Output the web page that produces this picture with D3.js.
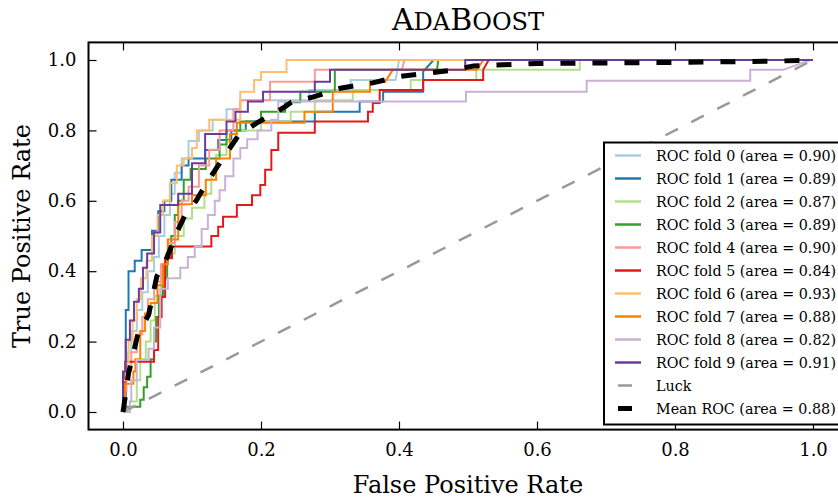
<!DOCTYPE html>
<meta charset="utf-8">
<style>
    body { margin: 0; background: #fff; }
    svg { font-family: "DejaVu Serif", serif; }
    .fold { fill: none; stroke-width: 2px; }
    .tick text { font-family: "DejaVu Serif", serif; font-size: 18px; fill: #000; }
    .tick line { stroke: #000; stroke-width: 1.2px; }
    .domain { display: none; }
    .legend text { font-size: 14.3px; }
</style>
<svg width="838" height="500"></svg>
<script src="https://d3js.org/d3.v7.min.js"></script>
<script>

    // ROC points [fpr, tpr] per fold
    var fold0 = [[0,0],[0,0.06],[0.003,0.06],[0.003,0.12],[0.006,0.12],[0.006,0.17],[0.012,0.17],[0.012,0.23],[0.02,0.23],[0.02,0.29],[0.028,0.29],[0.028,0.34],[0.036,0.34],[0.036,0.4],[0.045,0.4],[0.045,0.44],[0.052,0.44],[0.052,0.5],[0.06,0.5],[0.06,0.56],[0.068,0.56],[0.068,0.62],[0.075,0.62],[0.075,0.68],[0.085,0.68],[0.085,0.72],[0.095,0.72],[0.095,0.77],[0.11,0.77],[0.11,0.8],[0.13,0.8],[0.13,0.83],[0.15,0.83],[0.15,0.86],[0.17,0.86],[0.17,0.886],[0.27,0.886],[0.27,0.915],[0.33,0.915],[0.33,0.943],[0.395,0.943],[0.4,1],[1,1]];
    var fold1 = [[0,0],[0,0.03],[0.004,0.03],[0.004,0.29],[0.008,0.29],[0.008,0.4],[0.017,0.4],[0.017,0.43],[0.027,0.43],[0.027,0.46],[0.042,0.46],[0.042,0.515],[0.051,0.515],[0.051,0.57],[0.06,0.57],[0.06,0.6],[0.07,0.6],[0.07,0.66],[0.085,0.66],[0.085,0.7],[0.095,0.7],[0.095,0.72],[0.119,0.72],[0.119,0.744],[0.138,0.744],[0.138,0.773],[0.157,0.773],[0.157,0.8],[0.178,0.8],[0.178,0.825],[0.278,0.825],[0.278,0.853],[0.343,0.853],[0.343,0.882],[0.377,0.882],[0.377,0.91],[0.435,0.91],[0.435,0.967],[0.45,1],[1,1]];
    var fold2 = [[0,0],[0.01,0],[0.01,0.03],[0.02,0.03],[0.02,0.09],[0.025,0.09],[0.025,0.15],[0.033,0.15],[0.033,0.2],[0.04,0.2],[0.04,0.26],[0.046,0.26],[0.046,0.33],[0.055,0.33],[0.055,0.4],[0.062,0.4],[0.062,0.45],[0.075,0.45],[0.075,0.5],[0.088,0.5],[0.088,0.55],[0.1,0.55],[0.1,0.58],[0.118,0.58],[0.118,0.62],[0.128,0.62],[0.128,0.68],[0.135,0.68],[0.135,0.73],[0.15,0.73],[0.15,0.77],[0.165,0.77],[0.165,0.8],[0.2,0.8],[0.2,0.825],[0.243,0.825],[0.243,0.853],[0.278,0.853],[0.278,0.886],[0.333,0.886],[0.333,0.915],[0.417,0.915],[0.417,0.943],[0.512,0.943],[0.512,0.972],[0.662,0.972],[0.662,1],[1,1]];
    var fold3 = [[0,0],[0.004,0],[0.004,0.015],[0.025,0.015],[0.025,0.035],[0.03,0.035],[0.03,0.07],[0.035,0.07],[0.035,0.1],[0.04,0.1],[0.04,0.15],[0.045,0.15],[0.045,0.2],[0.048,0.2],[0.048,0.27],[0.052,0.27],[0.052,0.33],[0.058,0.33],[0.058,0.38],[0.064,0.38],[0.064,0.44],[0.07,0.44],[0.07,0.5],[0.075,0.5],[0.075,0.56],[0.08,0.56],[0.08,0.6],[0.088,0.6],[0.088,0.66],[0.098,0.66],[0.098,0.69],[0.12,0.69],[0.12,0.72],[0.14,0.72],[0.14,0.76],[0.15,0.76],[0.15,0.8],[0.17,0.8],[0.17,0.825],[0.2,0.825],[0.2,0.853],[0.235,0.853],[0.235,0.88],[0.257,0.88],[0.257,0.91],[0.307,0.91],[0.307,0.972],[0.455,0.972],[0.457,1],[1,1]];
    var fold4 = [[0,0],[0,0.06],[0.005,0.06],[0.005,0.12],[0.012,0.12],[0.012,0.17],[0.02,0.17],[0.02,0.22],[0.028,0.22],[0.028,0.27],[0.036,0.27],[0.036,0.32],[0.045,0.32],[0.045,0.37],[0.055,0.37],[0.055,0.42],[0.065,0.42],[0.065,0.48],[0.075,0.48],[0.075,0.54],[0.085,0.54],[0.085,0.6],[0.095,0.6],[0.095,0.64],[0.11,0.64],[0.11,0.7],[0.125,0.7],[0.125,0.745],[0.14,0.745],[0.14,0.8],[0.16,0.8],[0.16,0.86],[0.17,0.86],[0.17,0.886],[0.213,0.886],[0.213,0.938],[0.278,0.938],[0.278,0.972],[0.404,0.972],[0.408,1],[1,1]];
    var fold5 = [[0,0],[0.003,0],[0.003,0.143],[0.045,0.143],[0.045,0.176],[0.051,0.176],[0.051,0.27],[0.056,0.27],[0.056,0.327],[0.061,0.327],[0.061,0.437],[0.071,0.437],[0.071,0.47],[0.128,0.47],[0.128,0.5],[0.138,0.5],[0.138,0.526],[0.145,0.526],[0.145,0.555],[0.165,0.555],[0.165,0.588],[0.187,0.588],[0.187,0.616],[0.199,0.616],[0.199,0.645],[0.206,0.645],[0.206,0.688],[0.215,0.688],[0.215,0.744],[0.225,0.744],[0.225,0.793],[0.278,0.793],[0.278,0.825],[0.355,0.825],[0.355,0.853],[0.362,0.853],[0.362,0.878],[0.372,0.878],[0.372,0.915],[0.435,0.915],[0.435,0.943],[0.522,0.943],[0.522,0.972],[0.53,1],[1,1]];
    var fold6 = [[0,0],[0,0.09],[0.004,0.09],[0.004,0.14],[0.008,0.14],[0.008,0.2],[0.014,0.2],[0.014,0.26],[0.02,0.26],[0.02,0.32],[0.026,0.32],[0.026,0.38],[0.034,0.38],[0.034,0.43],[0.042,0.43],[0.042,0.5],[0.05,0.5],[0.05,0.56],[0.058,0.56],[0.058,0.6],[0.068,0.6],[0.068,0.65],[0.078,0.65],[0.078,0.7],[0.088,0.7],[0.088,0.72],[0.1,0.72],[0.1,0.75],[0.107,0.75],[0.107,0.8],[0.125,0.8],[0.125,0.83],[0.17,0.83],[0.17,0.91],[0.19,0.91],[0.19,0.943],[0.2,0.943],[0.2,0.966],[0.237,0.966],[0.237,1],[1,1]];
    var fold7 = [[0,0],[0.003,0],[0.003,0.08],[0.015,0.08],[0.015,0.115],[0.018,0.115],[0.018,0.15],[0.025,0.15],[0.025,0.23],[0.032,0.23],[0.032,0.28],[0.04,0.28],[0.04,0.31],[0.05,0.31],[0.05,0.36],[0.058,0.36],[0.058,0.42],[0.065,0.42],[0.065,0.49],[0.08,0.49],[0.08,0.59],[0.1,0.59],[0.1,0.616],[0.12,0.616],[0.12,0.66],[0.135,0.66],[0.135,0.72],[0.155,0.72],[0.155,0.79],[0.165,0.79],[0.165,0.822],[0.263,0.822],[0.263,0.853],[0.304,0.853],[0.304,0.91],[0.358,0.91],[0.358,0.938],[0.38,0.938],[0.391,0.972],[0.513,0.972],[0.522,1],[1,1]];
    var fold8 = [[0,0],[0.01,0],[0.01,0.03],[0.012,0.03],[0.012,0.09],[0.02,0.09],[0.02,0.148],[0.037,0.148],[0.037,0.18],[0.045,0.18],[0.045,0.24],[0.054,0.24],[0.054,0.35],[0.065,0.35],[0.065,0.38],[0.083,0.38],[0.083,0.41],[0.094,0.41],[0.094,0.44],[0.104,0.44],[0.104,0.47],[0.114,0.47],[0.114,0.52],[0.123,0.52],[0.123,0.56],[0.133,0.56],[0.133,0.6],[0.14,0.6],[0.14,0.63],[0.148,0.63],[0.148,0.67],[0.16,0.67],[0.16,0.72],[0.17,0.72],[0.17,0.75],[0.18,0.75],[0.18,0.775],[0.195,0.775],[0.195,0.8],[0.215,0.8],[0.215,0.83],[0.225,0.83],[0.225,0.882],[0.497,0.882],[0.497,0.91],[0.672,0.91],[0.672,0.941],[0.909,0.941],[0.909,0.972],[0.957,0.972],[0.996,1],[1,1]];
    var fold9 = [[0,0],[0,0.115],[0.004,0.115],[0.004,0.205],[0.01,0.205],[0.01,0.26],[0.016,0.26],[0.016,0.313],[0.023,0.313],[0.023,0.35],[0.029,0.35],[0.029,0.41],[0.035,0.41],[0.035,0.45],[0.045,0.45],[0.045,0.51],[0.054,0.51],[0.054,0.588],[0.08,0.588],[0.08,0.62],[0.1,0.62],[0.1,0.707],[0.119,0.707],[0.119,0.79],[0.15,0.79],[0.15,0.825],[0.163,0.825],[0.163,0.853],[0.181,0.853],[0.181,0.882],[0.203,0.882],[0.203,0.91],[0.278,0.91],[0.278,0.938],[0.3,0.938],[0.3,0.972],[0.496,0.972],[0.496,1],[1,1]];

    var meanRoc = [[0,0],[0.003,0.04],[0.008,0.11],[0.013,0.15],[0.022,0.225],[0.037,0.275],[0.049,0.385],[0.064,0.44],[0.078,0.51],[0.09,0.56],[0.106,0.6],[0.112,0.62],[0.136,0.695],[0.155,0.75],[0.167,0.785],[0.193,0.82],[0.233,0.865],[0.244,0.88],[0.276,0.895],[0.315,0.92],[0.362,0.935],[0.4,0.953],[0.473,0.97],[0.508,0.983],[0.6,0.99],[0.8,0.993],[0.95,0.997],[1,1]];
    var luck = [[0,0],[1,1]];

    var folds = [fold0, fold1, fold2, fold3, fold4, fold5, fold6, fold7, fold8, fold9];
    var foldAuc = [0.90, 0.89, 0.87, 0.89, 0.90, 0.84, 0.93, 0.88, 0.82, 0.91];
    var meanAuc = 0.88;
    var xTicks = [0, 0.2, 0.4, 0.6, 0.8, 1.0];
    var yTicks = [0, 0.2, 0.4, 0.6, 0.8, 1.0];

    var palette = d3.schemePaired;

    var svg = d3.select("svg");
    var mLeft = 88.5, mRight = 847.5, mTop = 42.4, mBottom = 429.6;

    var x = d3.scaleLinear().domain([-0.05, 1.05]).range([mLeft, mRight]);
    var y = d3.scaleLinear().domain([-0.05, 1.05]).range([mBottom, mTop]);

    svg.append("clipPath").attr("id", "plot")
        .append("rect")
        .attr("x", mLeft).attr("y", mTop)
        .attr("width", mRight - mLeft).attr("height", mBottom - mTop);

    var line = d3.line()
        .x(function (d) { return x(d[0]); })
        .y(function (d) { return y(d[1]); });

    var plot = svg.append("g").attr("clip-path", "url(#plot)");

    plot.selectAll("path.fold")
        .data(folds)
        .enter().append("path")
        .attr("class", "fold")
        .attr("stroke", function (d, i) { return palette[i]; })
        .attr("d", line);

    plot.append("path")
        .datum(luck)
        .attr("d", line)
        .attr("fill", "none")
        .attr("stroke", "#999")
        .attr("stroke-width", 2.5)
        .attr("stroke-dasharray", "14,15");

    plot.append("path")
        .datum(meanRoc)
        .attr("d", line)
        .attr("fill", "none")
        .attr("stroke", "#000")
        .attr("stroke-width", 5)
        .attr("stroke-dasharray", "15,17");

    // axes, ticks inward like matplotlib classic
    var fmt = d3.format(".1f");
    svg.append("g")
        .attr("transform", "translate(0," + mBottom + ")")
        .call(d3.axisBottom(x).tickValues(xTicks).tickFormat(fmt).tickSizeInner(-8).tickSizeOuter(0).tickPadding(14));
    svg.append("g")
        .attr("transform", "translate(0," + mTop + ")")
        .call(d3.axisTop(x).tickValues(xTicks).tickFormat("").tickSizeInner(-8).tickSizeOuter(0));
    svg.append("g")
        .attr("transform", "translate(" + mLeft + ",0)")
        .call(d3.axisLeft(y).tickValues(yTicks).tickFormat(fmt).tickSizeInner(-8).tickSizeOuter(0).tickPadding(12));
    svg.append("g")
        .attr("transform", "translate(" + mRight + ",0)")
        .call(d3.axisRight(y).tickValues(yTicks).tickFormat("").tickSizeInner(-8).tickSizeOuter(0));

    svg.append("rect")
        .attr("x", mLeft).attr("y", mTop)
        .attr("width", mRight - mLeft).attr("height", mBottom - mTop)
        .attr("fill", "none")
        .attr("stroke", "#000")
        .attr("stroke-width", 2);

    // title in small caps: full caps for initials, smaller caps for the rest
    var title = svg.append("text")
        .attr("x", (mLeft + mRight) / 2).attr("y", 30)
        .attr("text-anchor", "middle");
    [["A", 30], ["DA", 24], ["B", 30], ["OOST", 24]].forEach(function (p) {
        title.append("tspan").style("font-size", p[1] + "px").text(p[0]);
    });

    svg.append("text")
        .attr("x", (mLeft + mRight) / 2).attr("y", 493)
        .attr("text-anchor", "middle")
        .style("font-size", "24px")
        .text("False Positive Rate");

    svg.append("text")
        .attr("transform", "translate(30," + (mTop + mBottom) / 2 + ") rotate(-90)")
        .attr("text-anchor", "middle")
        .style("font-size", "24px")
        .text("True Positive Rate");

    // legend
    var entries = foldAuc.map(function (a, i) {
        return { label: "ROC fold " + i + " (area = " + a.toFixed(2) + ")", color: palette[i], width: 2.5 };
    });
    entries.push({ label: "Luck", color: "#999", width: 2.5, short: true });
    entries.push({ label: "Mean ROC (area = " + meanAuc.toFixed(2) + ")", color: "#000", width: 5, short: true });

    var legend = svg.append("g").attr("class", "legend");
    legend.append("rect")
        .attr("x", 604).attr("y", 142.5)
        .attr("width", 250).attr("height", 282)
        .attr("fill", "#fff")
        .attr("stroke", "#000")
        .attr("stroke-width", 2);

    var item = legend.selectAll("g.item")
        .data(entries)
        .enter().append("g")
        .attr("class", "item")
        .attr("transform", function (d, i) { return "translate(0," + (155.5 + i * 23) + ")"; });

    item.append("line")
        .attr("x1", function (d) { return d.short ? 618 : 615; })
        .attr("x2", function (d) { return d.short ? 632 : 641; })
        .attr("stroke", function (d) { return d.color; })
        .attr("stroke-width", function (d) { return d.width; });

    item.append("text")
        .attr("x", 656).attr("y", 5)
        .text(function (d) { return d.label; });

</script>
